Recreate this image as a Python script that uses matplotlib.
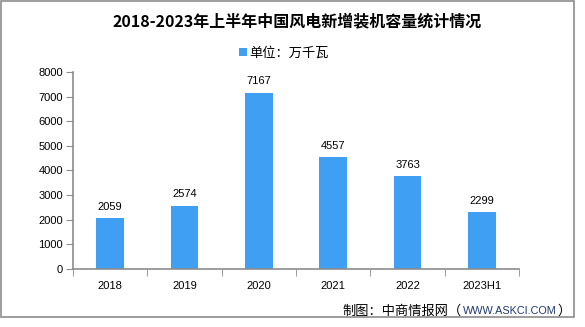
import matplotlib
matplotlib.use('Agg')
from matplotlib import pyplot as plt
from matplotlib.patches import Rectangle

plt.rcParams['font.family'] = ['Noto Sans CJK SC', 'DejaVu Sans']

# Data
years = ['2018', '2019', '2020', '2021', '2022', '2023H1']
capacity = [2059, 2574, 7167, 4557, 3763, 2299]

bar_color = '#3F9FF2'
axis_color = '#8C8C8C'

fig = plt.figure(figsize=(5.85, 3.27), dpi=100)
ax = fig.add_axes([0.1243, 0.1774, 0.7634, 0.6024])

x = list(range(len(years)))
bars = ax.bar(x, capacity, width=0.37, color=bar_color, label='单位：万千瓦')

# value labels above bars
for xi, v in zip(x, capacity):
    ax.text(xi, v + 250, str(v), ha='center', va='bottom', fontsize=8,
            family='Liberation Sans')

ax.set_xlim(-0.5, len(years) - 0.5)
ax.set_ylim(0, 8000)
ax.set_yticks(range(0, 8001, 1000))
ax.set_yticklabels([str(t) for t in range(0, 8001, 1000)], family='Liberation Sans', fontsize=8)

# category labels centred, ticks at the boundaries
ax.set_xticks(x)
ax.set_xticklabels(years, family='Liberation Sans', fontsize=8)
ax.tick_params(axis='x', length=0, pad=9)
ax.set_xticks([i - 0.5 for i in range(len(years) + 1)], minor=True)
ax.tick_params(axis='x', which='minor', length=5, color=axis_color, direction='out')
ax.tick_params(axis='y', length=5, color=axis_color, pad=2)

for side in ['top', 'right']:
    ax.spines[side].set_visible(False)
for side in ['left', 'bottom']:
    ax.spines[side].set_color(axis_color)
    ax.spines[side].set_linewidth(1.2)

# title and legend
fig.text(0.508, 0.935, '2018-2023年上半年中国风电新增装机容量统计情况', ha='center', va='center',
         fontsize=11.5, fontweight='bold')
fig.legend(handles=[bars], labels=['单位：万千瓦'], loc='center', bbox_to_anchor=(0.485, 0.838),
           frameon=False, fontsize=9.5, handlelength=0.6, handleheight=0.6, handletextpad=0.2)

# source note, pieces placed one after another
renderer = fig.canvas.get_renderer()
t1 = fig.text(0.585, 0.048, '制图：中商情报网（', ha='left', va='center', fontsize=9.5)
x1 = fig.transFigure.inverted().transform((t1.get_window_extent(renderer).x1, 0))[0]
t2 = fig.text(x1 + 0.002, 0.048, 'WWW.ASKCI.COM', ha='left', va='center', fontsize=7.8,
              color='#1F3A70', family='Liberation Sans')
x2 = fig.transFigure.inverted().transform((t2.get_window_extent(renderer).x1, 0))[0]
fig.text(x2 + 0.002, 0.048, '）', ha='left', va='center', fontsize=9.5)

# outer frame
fig.patches.append(Rectangle((0.001, 0.031), 0.981, 0.967, transform=fig.transFigure,
                             fill=False, edgecolor='#8C8C8C', linewidth=1.2))

fig.savefig('out.png', dpi=100)
